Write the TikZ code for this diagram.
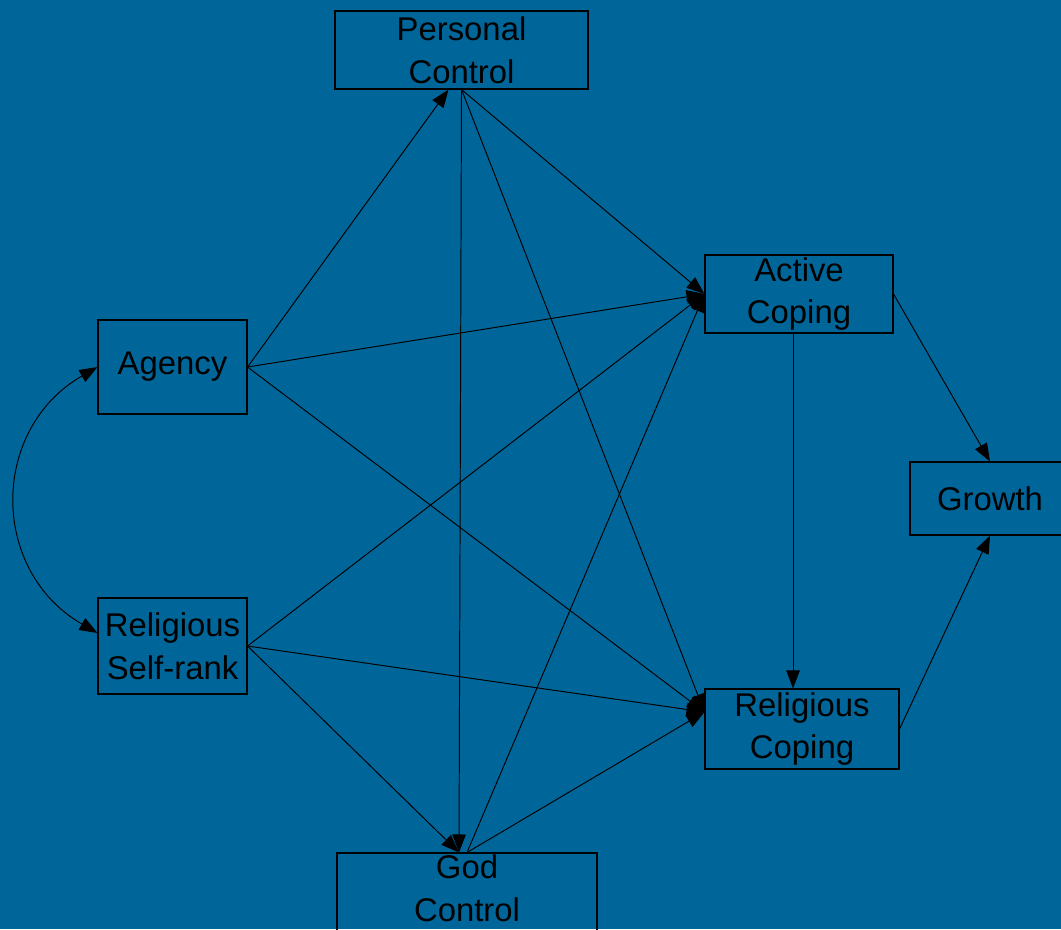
\documentclass[tikz,border=0pt]{standalone}
\usepackage{fontspec}
\setmainfont{Liberation Sans}
\usepackage{xcolor}
\usetikzlibrary{arrows.meta}
\definecolor{slideblue}{RGB}{0,102,153}

\begin{document}
\begin{tikzpicture}[
    box/.style={rectangle, draw, line width=0.6pt, align=center, inner sep=0pt, font=\fontsize{18.7}{24.4}\selectfont},
    arrow/.style={line width=0.55pt, ->, >={Triangle[length=0.36cm, width=0.27cm]}}
]
\useasboundingbox (0,0) rectangle (21.22,-18.58);
\fill[slideblue] (0,0) rectangle (21.22,-18.58);
\clip (0,0) rectangle (21.22,-18.58);

\node[box, minimum width=5.06cm, minimum height=1.56cm] (pc) at (9.23,-1.0) {Personal\\Control};
\node[box, minimum width=2.98cm, minimum height=1.88cm] (ag) at (3.45,-7.34) {Agency};
\node[box, minimum width=2.98cm, minimum height=1.92cm] (sr) at (3.45,-12.92) {Religious\\Self-rank};
\node[box, minimum width=3.76cm, minimum height=1.56cm] (ac) at (15.98,-5.88) {Active\\Coping};
\node[box, minimum width=3.88cm, minimum height=1.6cm] (rc) at (16.04,-14.58) {Religious\\Coping};
\node[box, minimum width=3.2cm, minimum height=1.46cm] (gr) at (19.8,-9.97) {Growth};
\node[box, minimum width=5.2cm, minimum height=1.9cm, text depth=0.5cm] (gc) at (9.34,-18.01) {God\\Control};

\draw[arrow] (ag.east) -- ([xshift=-0.26cm]pc.south);
\draw[arrow] (ag.east) -- (ac.west);
\draw[arrow] (ag.east) -- ([yshift=0.34cm]rc.west);
\draw[arrow] (pc.south) -- (ac.west);
\draw[arrow] (pc.south) -- ([yshift=0.34cm]rc.west);
\draw[arrow] (pc.south) -- ([xshift=-0.16cm]gc.north);
\draw[arrow] (sr.east) -- (ac.west);
\draw[arrow] (sr.east) -- ([yshift=0.34cm]rc.west);
\draw[arrow] (sr.east) -- ([xshift=-0.16cm]gc.north);
\draw[arrow] (gc.north) -- (ac.west);
\draw[arrow] (gc.north) -- ([yshift=0.34cm]rc.west);
\draw[arrow] ([xshift=-0.12cm]ac.south) -- ([xshift=-0.18cm]rc.north);
\draw[arrow] (ac.east) -- (gr.north);
\draw[arrow] (rc.east) -- (gr.south);
\draw[arrow, <->] (ag.west) to[out=210, in=150, looseness=1.2] ([yshift=0.26cm]sr.west);
\end{tikzpicture}
\end{document}
